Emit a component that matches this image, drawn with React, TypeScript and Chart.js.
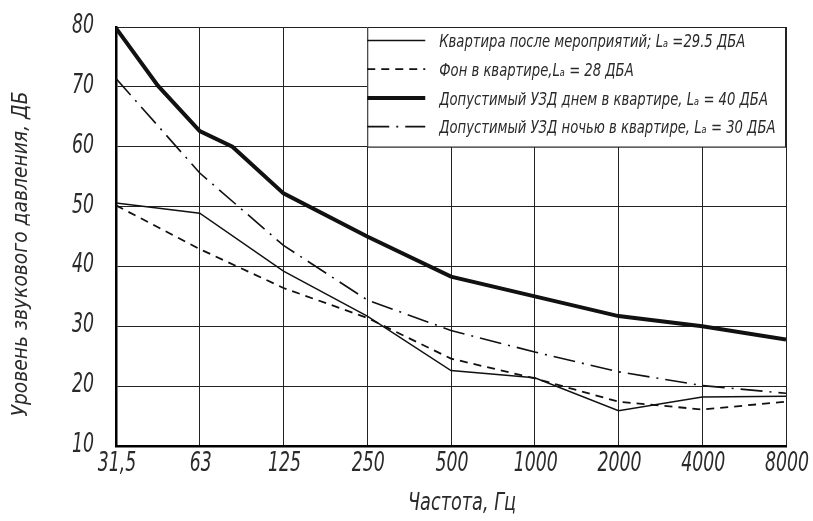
import React, { useEffect, useRef } from 'react';
import { Chart, registerables } from 'chart.js';

Chart.register(...registerables);

// Octave band centre frequencies (x categories, placed at positions 0..8)
const BAND_LABELS = ['31,5', '63', '125', '250', '500', '1000', '2000', '4000', '8000'];
const BAND_POS = [0, 1, 2, 3, 4, 5, 6, 7, 8];

// Series values (dB)
const AFTER_Y = [50.6, 48.9, 39.2, 31.7, 22.6, 21.4, 15.9, 18.2, 18.3];
const BACKGROUND_Y = [50.2, 42.9, 36.4, 31.4, 24.6, 21.3, 17.4, 16.1, 17.4];
const DAY_X = [0, 0.5, 1, 1.39, 2, 3, 4, 5, 6, 7, 8];
const DAY_Y = [79.8, 70.2, 62.6, 60.0, 52.2, 45.0, 38.3, 35.0, 31.7, 30.0, 27.8];
const NIGHT_Y = [71.4, 55.6, 43.5, 34.4, 29.3, 25.7, 22.4, 20.1, 18.8];

const Y_MIN = 10;
const Y_MAX = 80;
const Y_STEP = 10;

const SERIES_LABELS = [
  'Квартира после мероприятий; Lₐ =29.5 ДБА',
  'Фон в квартире,Lₐ = 28 ДБА',
  'Допустимый УЗД днем в квартире, Lₐ = 40 ДБА',
  'Допустимый УЗД ночью в квартире, Lₐ = 30 ДБА',
];
const Y_TITLE = 'Уровень звукового давления, ДБ';
const X_TITLE = 'Частота, Гц';

const FONT_FAMILY = "'DejaVu Sans', 'DejaVu Sans Condensed', sans-serif";
const FONT_WEIGHT = 200;
const TEXT_COLOR = '#2a2a2a';
const LINE_COLOR = '#111';

function pts(xs: number[], ys: number[]) {
  return xs.map((x, i) => ({ x, y: ys[i] }));
}

function condensedText(ctx: CanvasRenderingContext2D, text: string, x: number, y: number, sx: number) {
  ctx.save();
  ctx.translate(x, y);
  ctx.scale(sx, 1);
  ctx.fillText(text, 0, 0);
  ctx.restore();
}

const overlayPlugin = {
  id: 'overlay',
  afterDatasetsDraw(chart: any) {
    const { ctx, chartArea, scales } = chart;
    const xs = scales.x;
    const ys = scales.y;
    const datasets = chart.data.datasets;

    // tick labels (condensed italic, positioned by the chart's scales)
    ctx.save();
    ctx.fillStyle = TEXT_COLOR;
    ctx.font = `italic ${FONT_WEIGHT} 27px ${FONT_FAMILY}`;
    ctx.textBaseline = 'middle';
    ctx.textAlign = 'center';
    const tsx = Math.min(1, 44 / ctx.measureText('8000').width);
    xs.ticks.forEach((t: any) => {
      const label = BAND_LABELS[Math.round(t.value)];
      condensedText(ctx, label, xs.getPixelForValue(t.value) + 1, chartArea.bottom + 18, tsx);
    });
    ctx.textAlign = 'right';
    ys.ticks.forEach((t: any) => {
      condensedText(ctx, String(t.value), chartArea.left - 22, ys.getPixelForValue(t.value) - 1, tsx);
    });
    ctx.restore();

    // legend box
    const bx0 = xs.getPixelForValue(3);
    const bx1 = chartArea.right;
    const by0 = chartArea.top;
    const by1 = ys.getPixelForValue(60);
    ctx.save();
    ctx.fillStyle = '#fff';
    ctx.fillRect(bx0, by0, bx1 - bx0, by1 - by0);
    ctx.strokeStyle = '#222';
    ctx.lineWidth = 1;
    ctx.strokeRect(bx0 + 0.5, by0 + 0.5, bx1 - bx0 - 1, by1 - by0);
    ctx.font = `italic ${FONT_WEIGHT} 18px ${FONT_FAMILY}`;
    ctx.fillStyle = TEXT_COLOR;
    ctx.textBaseline = 'middle';
    ctx.textAlign = 'left';
    const w0 = ctx.measureText(SERIES_LABELS[0]).width;
    const sx = Math.min(1, 306 / w0);
    SERIES_LABELS.forEach((label, k) => {
      const ds = datasets[k];
      const ly = by0 + 13.5 + k * 28.7;
      ctx.save();
      ctx.strokeStyle = ds.borderColor;
      ctx.lineWidth = ds.borderWidth;
      ctx.setLineDash(ds.borderDash || []);
      ctx.beginPath();
      ctx.moveTo(bx0, ly);
      ctx.lineTo(bx0 + 58, ly);
      ctx.stroke();
      ctx.restore();
      condensedText(ctx, label, bx0 + 72, ly + 2, sx);
    });
    ctx.restore();

    // axis titles
    ctx.save();
    ctx.fillStyle = TEXT_COLOR;
    ctx.textAlign = 'center';
    ctx.textBaseline = 'middle';
    ctx.font = `italic ${FONT_WEIGHT} 21px ${FONT_FAMILY}`;
    const wy = ctx.measureText(Y_TITLE).width;
    ctx.translate(22, 254);
    ctx.rotate(-Math.PI / 2);
    ctx.scale(Math.min(1, 325 / wy), 1);
    ctx.fillText(Y_TITLE, 0, 0);
    ctx.restore();

    ctx.save();
    ctx.fillStyle = TEXT_COLOR;
    ctx.textAlign = 'center';
    ctx.textBaseline = 'middle';
    ctx.font = `italic ${FONT_WEIGHT} 25px ${FONT_FAMILY}`;
    const wx = ctx.measureText(X_TITLE).width;
    condensedText(ctx, X_TITLE, 462, 503, Math.min(1, 108 / wx));
    ctx.restore();
  },
};

export default function App() {
  const ref = useRef<HTMLCanvasElement | null>(null);
  useEffect(() => {
    document.body.style.margin = '0';
    const canvas = ref.current;
    if (!canvas) return;
    const chart = new Chart(canvas, {
      type: 'line',
      data: {
        datasets: [
          {
            label: SERIES_LABELS[0],
            data: pts(BAND_POS, AFTER_Y),
            borderColor: LINE_COLOR,
            borderWidth: 1.5,
            pointRadius: 0,
            tension: 0,
          },
          {
            label: SERIES_LABELS[1],
            data: pts(BAND_POS, BACKGROUND_Y),
            borderColor: LINE_COLOR,
            borderWidth: 1.8,
            borderDash: [8, 6],
            pointRadius: 0,
            tension: 0,
          },
          {
            label: SERIES_LABELS[2],
            data: pts(DAY_X, DAY_Y),
            borderColor: LINE_COLOR,
            borderWidth: 4,
            pointRadius: 0,
            tension: 0,
          },
          {
            label: SERIES_LABELS[3],
            data: pts(BAND_POS, NIGHT_Y),
            borderColor: LINE_COLOR,
            borderWidth: 1.6,
            borderDash: [22, 7, 2, 7],
            pointRadius: 0,
            tension: 0,
          },
        ],
      },
      options: {
        animation: false,
        responsive: false,
        layout: { padding: { top: 27, right: 27, left: 0, bottom: 0 } },
        plugins: { legend: { display: false }, tooltip: { enabled: false }, title: { display: false } },
        scales: {
          x: {
            type: 'linear',
            min: 0,
            max: BAND_POS.length - 1,
            afterFit: (s: any) => { s.height = 75; },
            afterBuildTicks: (s: any) => { s.ticks = BAND_POS.map((v) => ({ value: v })); },
            ticks: { display: false },
            grid: { color: '#222', lineWidth: 1, drawTicks: false },
            border: { color: '#000', width: 2.5 },
          },
          y: {
            type: 'linear',
            min: Y_MIN,
            max: Y_MAX,
            afterFit: (s: any) => { s.width = 116; },
            ticks: { display: false, stepSize: Y_STEP },
            grid: { color: '#222', lineWidth: 1, drawTicks: false },
            border: { color: '#000', width: 2.5 },
          },
        },
      },
      plugins: [overlayPlugin],
    } as any);
    return () => chart.destroy();
  }, []);
  return (
    <div style={{ position: 'absolute', left: 0, top: 0, width: 813, height: 521, background: '#fff' }}>
      <canvas ref={ref} width={813} height={521} />
    </div>
  );
}
